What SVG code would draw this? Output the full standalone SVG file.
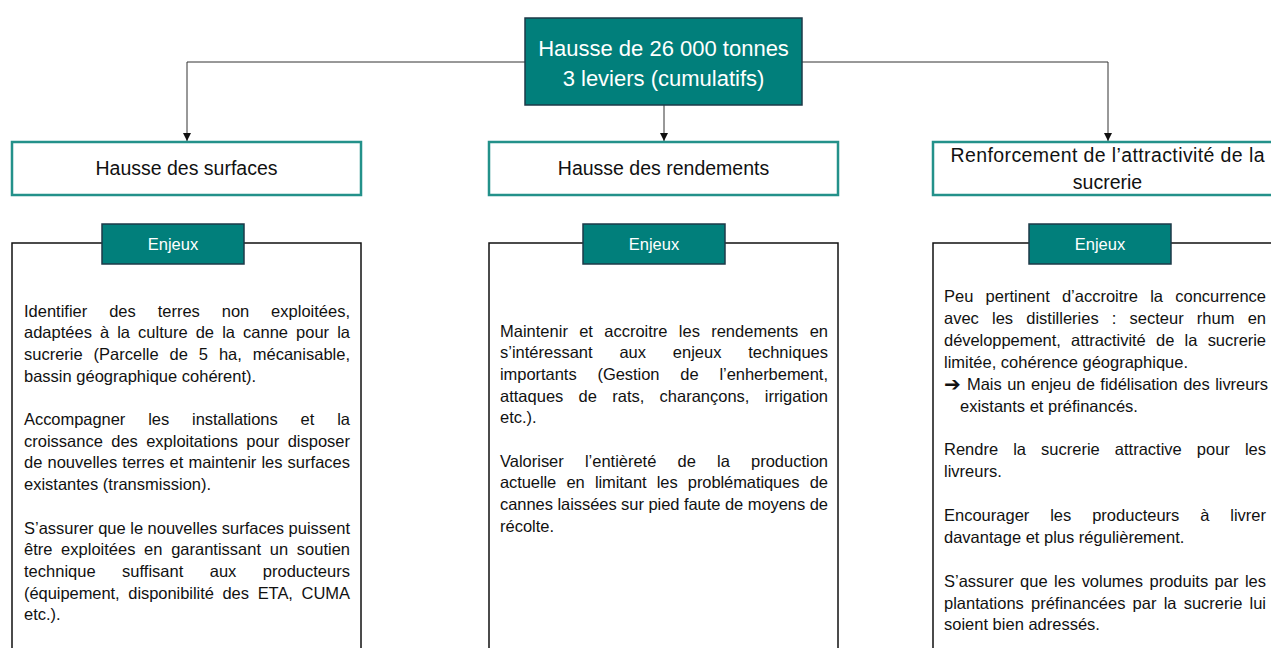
<svg xmlns="http://www.w3.org/2000/svg" width="1271" height="648" viewBox="0 0 1271 648">
<style>
.top{fill:#017f7b;stroke:#1d3a48;stroke-width:1.5}
.lvl{fill:#fff;stroke:#23918a;stroke-width:2.5}
.tag{fill:#017f7b;stroke:#1d3a48;stroke-width:1.5}
.cont{fill:#fff;stroke:#111;stroke-width:1.5}
.wt{font-family:"Liberation Sans",Arial,sans-serif;fill:#fff;text-anchor:middle}
.hd{font-family:"Liberation Sans",Arial,sans-serif;fill:#111;font-size:19.5px;text-anchor:middle}
.bd{font-family:"Liberation Sans",Arial,sans-serif;fill:#111;font-size:16.5px}
.conn{fill:none;stroke:#333;stroke-width:1}
</style>
<defs>
<marker id="arr" viewBox="0 0 8 8" refX="8" refY="4" markerWidth="8" markerHeight="8" markerUnits="userSpaceOnUse" orient="auto">
<path d="M0,0 L8,4 L0,8 z" fill="#111"/>
</marker>
</defs>
<rect width="1271" height="648" fill="#fff"/>
<g id="connectors">
<path class="conn" d="M525,62 H187 V141" marker-end="url(#arr)"/>
<path class="conn" d="M802,62 H1108 V141" marker-end="url(#arr)"/>
<path class="conn" d="M664,105 V141" stroke="#666" marker-end="url(#arr)"/>
</g>
<g id="root">
<rect class="top" x="525" y="18" width="277" height="87"/>
<text class="wt" x="663.5" y="55.5" font-size="22">Hausse de 26 000 tonnes</text>
<text class="wt" x="663.5" y="85.5" font-size="22">3 leviers (cumulatifs)</text>
</g>
<g id="lever-surfaces">
<rect class="lvl" x="12" y="142" width="349" height="53"/>
<text class="hd" x="186.5" y="174.5">Hausse des surfaces</text>
</g>
<g id="lever-rendements">
<rect class="lvl" x="489" y="142" width="349" height="53"/>
<text class="hd" x="663.5" y="174.5">Hausse des rendements</text>
</g>
<g id="lever-attractivite">
<rect class="lvl" x="933" y="142" width="349" height="53"/>
<text class="hd" x="1107.5" y="161.5" textLength="314" lengthAdjust="spacing">Renforcement de l’attractivité de la</text>
<text class="hd" x="1107.5" y="188.5">sucrerie</text>
</g>
<g id="enjeux-surfaces">
<rect class="cont" x="12" y="243" width="349" height="420"/>
<rect class="tag" x="102" y="224" width="142" height="40"/>
<text class="wt" x="173" y="250" font-size="16.5">Enjeux</text>
<text class="bd" x="24" y="316.5" word-spacing="17.3" textLength="326" lengthAdjust="spacing">Identifier des terres non exploitées,</text>
<text class="bd" x="24" y="338.2" word-spacing="3.5" textLength="326" lengthAdjust="spacing">adaptées à la culture de la canne pour la</text>
<text class="bd" x="24" y="359.9" word-spacing="6.3" textLength="326" lengthAdjust="spacing">sucrerie (Parcelle de 5 ha, mécanisable,</text>
<text class="bd" x="24" y="381.6">bassin géographique cohérent).</text>
<text class="bd" x="24" y="425" word-spacing="18.4" textLength="326" lengthAdjust="spacing">Accompagner les installations et la</text>
<text class="bd" x="24" y="446.7" word-spacing="3.8" textLength="326" lengthAdjust="spacing">croissance des exploitations pour disposer</text>
<text class="bd" x="24" y="468.4" word-spacing="0.5" textLength="326" lengthAdjust="spacing">de nouvelles terres et maintenir les surfaces</text>
<text class="bd" x="24" y="490.1">existantes (transmission).</text>
<text class="bd" x="24" y="533.5" textLength="326" lengthAdjust="spacing">S’assurer que le nouvelles surfaces puissent</text>
<text class="bd" x="24" y="555.2" word-spacing="4.1" textLength="326" lengthAdjust="spacing">être exploitées en garantissant un soutien</text>
<text class="bd" x="24" y="576.9" word-spacing="21.8" textLength="326" lengthAdjust="spacing">technique suffisant aux producteurs</text>
<text class="bd" x="24" y="598.6" word-spacing="4.2" textLength="326" lengthAdjust="spacing">(équipement, disponibilité des ETA, CUMA</text>
<text class="bd" x="24" y="620.3">etc.).</text>
</g>
<g id="enjeux-rendements">
<rect class="cont" x="489" y="243" width="349" height="420"/>
<rect class="tag" x="583" y="224" width="142" height="40"/>
<text class="wt" x="654" y="250" font-size="16.5">Enjeux</text>
<text class="bd" x="500" y="336.5" word-spacing="6.7" textLength="328" lengthAdjust="spacing">Maintenir et accroitre les rendements en</text>
<text class="bd" x="500" y="358.2" word-spacing="22.2" textLength="328" lengthAdjust="spacing">s’intéressant aux enjeux techniques</text>
<text class="bd" x="500" y="379.9" word-spacing="16.3" textLength="328" lengthAdjust="spacing">importants (Gestion de l’enherbement,</text>
<text class="bd" x="500" y="401.6" word-spacing="10.7" textLength="328" lengthAdjust="spacing">attaques de rats, charançons, irrigation</text>
<text class="bd" x="500" y="423.3">etc.).</text>
<text class="bd" x="500" y="466.7" word-spacing="16.6" textLength="328" lengthAdjust="spacing">Valoriser l’entièreté de la production</text>
<text class="bd" x="500" y="488.4" word-spacing="5.8" textLength="328" lengthAdjust="spacing">actuelle en limitant les problématiques de</text>
<text class="bd" x="500" y="510.1" textLength="328" lengthAdjust="spacing">cannes laissées sur pied faute de moyens de</text>
<text class="bd" x="500" y="531.8">récolte.</text>
</g>
<g id="enjeux-attractivite">
<rect class="cont" x="933" y="243" width="349" height="420"/>
<rect class="tag" x="1029" y="224" width="142" height="40"/>
<text class="wt" x="1100" y="250" font-size="16.5">Enjeux</text>
<text class="bd" x="944" y="302" word-spacing="7.6" textLength="322" lengthAdjust="spacing">Peu pertinent d’accroitre la concurrence</text>
<text class="bd" x="944" y="323.9" word-spacing="8.6" textLength="322" lengthAdjust="spacing">avec les distilleries : secteur rhum en</text>
<text class="bd" x="944" y="345.8" word-spacing="5.8" textLength="322" lengthAdjust="spacing">développement, attractivité de la sucrerie</text>
<text class="bd" x="944" y="367.7">limitée, cohérence géographique.</text>
<text x="944" y="390.5" font-family="'DejaVu Sans',sans-serif" font-size="20" font-weight="bold" fill="#111">➔</text>
<text class="bd" x="967" y="389.6" word-spacing="1" textLength="301" lengthAdjust="spacing">Mais un enjeu de fidélisation des livreurs</text>
<text class="bd" x="960" y="411.5">existants et préfinancés.</text>
<text class="bd" x="944" y="455.3" word-spacing="10.5" textLength="322" lengthAdjust="spacing">Rendre la sucrerie attractive pour les</text>
<text class="bd" x="944" y="477.2">livreurs.</text>
<text class="bd" x="944" y="520.9" word-spacing="16.3" textLength="322" lengthAdjust="spacing">Encourager les producteurs à livrer</text>
<text class="bd" x="944" y="542.8">davantage et plus régulièrement.</text>
<text class="bd" x="944" y="586.6" word-spacing="1.9" textLength="322" lengthAdjust="spacing">S’assurer que les volumes produits par les</text>
<text class="bd" x="944" y="608.5" word-spacing="2.6" textLength="322" lengthAdjust="spacing">plantations préfinancées par la sucrerie lui</text>
<text class="bd" x="944" y="630.4">soient bien adressés.</text>
</g>
</svg>
